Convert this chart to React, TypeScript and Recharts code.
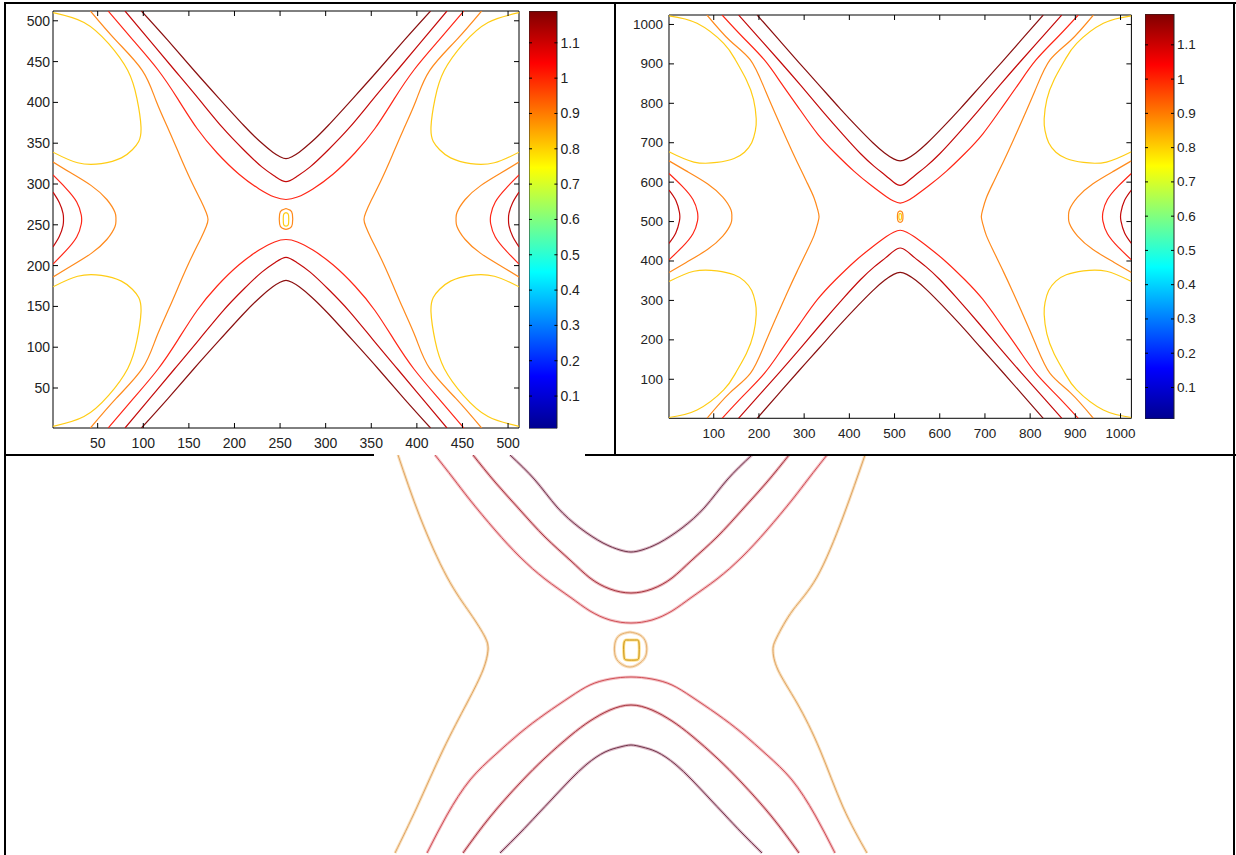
import React from "react";
import { LineChart, Line, XAxis, YAxis, ReferenceArea, BarChart, Bar } from "recharts";

type P = [number, number][];

// ---------- left plot (512 x 512) ----------
const leftTicks = [50, 100, 150, 200, 250, 300, 350, 400, 450, 500];

const lYellowTL: P = [[1,510],[35,498],[62,472],[83,439],[93,405],[97.5,370],[95,352],[88,342],[76,332],[54,325],[28,326],[1,339]];
const lYellowBL: P = [[1,3],[35,15],[62,41],[83,74],[93,108],[97.5,143],[95,161],[88,171],[76,181],[54,188],[28,187],[1,174]];
const lYellowTR: P = [[512,510],[478,498],[451,472],[430,439],[420,405],[415.5,370],[418,352],[425,342],[437,332],[459,325],[485,326],[512,339]];
const lYellowBR: P = [[512,3],[478,15],[451,41],[430,74],[420,108],[415.5,143],[418,161],[425,171],[437,181],[459,188],[485,187],[512,174]];
const lOrangeEdgeL: P = [[1,327],[20,314],[43,298],[60,281],[69,265],[70,256.5],[69,248],[60,232],[43,215],[20,199],[1,186]];
const lOrangeEdgeR: P = [[512,327],[493,314],[470,298],[453,281],[444,265],[443,256.5],[444,248],[453,232],[470,215],[493,199],[512,186]];
const lRedEdgeL: P = [[1,311],[15,295],[27,278],[32,262],[32,251],[27,235],[15,218],[1,202]];
const lRedEdgeR: P = [[512,311],[498,295],[486,278],[481,262],[481,251],[486,235],[498,218],[512,202]];
const lDarkEdgeL: P = [[1,290],[8,277],[12,264],[12.5,256.5],[12,249],[8,236],[1,223]];
const lDarkEdgeR: P = [[512,290],[505,277],[501,264],[500.5,256.5],[501,249],[505,236],[512,223]];
const lOrangeMidL: P = [[42,512],[70,476],[99,439],[114,402],[128,366],[140,335],[152,305],[163,280],[169,265],[171,256.5],[169,248],[163,233],[152,208],[140,178],[128,147],[114,111],[99,74],[70,37],[42,1]];
const lOrangeMidR: P = [[471,512],[443,476],[414,439],[399,402],[385,366],[373,335],[361,305],[350,280],[344,265],[342,256.5],[344,248],[350,233],[361,208],[373,178],[385,147],[399,111],[414,74],[443,37],[471,1]];
const lMaroonUp: P = [[98,512],[127,476],[155,440],[183,405],[210,372],[228,352],[242,339],[250,333.5],[256.5,331],[263,333.5],[271,339],[285,352],[303,372],[330,405],[358,440],[386,476],[415,512]];
const lMaroonLo: P = [[98,1],[127,37],[155,73],[183,108],[210,141],[228,161],[242,174],[250,179.5],[256.5,182],[263,179.5],[271,174],[285,161],[303,141],[330,108],[358,73],[386,37],[415,1]];
const lDarkUp: P = [[80,512],[107,476],[134,440],[161,404],[187,369],[210,342],[230,321],[245,309],[256.5,303],[268,309],[283,321],[303,342],[326,369],[352,404],[379,440],[406,476],[433,512]];
const lDarkLo: P = [[80,1],[107,37],[134,73],[161,109],[187,144],[210,171],[230,192],[245,204],[256.5,210],[268,204],[283,192],[303,171],[326,144],[352,109],[379,73],[406,37],[433,1]];
const lRedUp: P = [[61.5,512],[89,476],[116,440],[138,404],[159,368],[181,338],[205,312],[227,294],[244,284],[256.5,281],[269,284],[286,294],[308,312],[332,338],[354,368],[375,404],[397,440],[424,476],[451.5,512]];
const lRedLo: P = [[61.5,1],[89,37],[116,73],[138,109],[159,145],[181,175],[205,201],[227,219],[244,229],[256.5,232],[269,229],[286,219],[308,201],[332,175],[354,145],[375,109],[397,73],[424,37],[451.5,1]];
const lOvalOuter: P = [[256.5,270],[261,268],[263.5,263],[263.5,251],[261,246],[256.5,244.5],[252,246],[249.5,251],[249.5,263],[252,268],[256.5,270]];
const lOvalInner: P = [[256.5,265],[259,263],[259.5,257],[259,250],[256.5,248.5],[254,250],[253.5,257],[254,263],[256.5,265]];

// ---------- right plot (1024 x 1024) ----------
const rightTicks = [100, 200, 300, 400, 500, 600, 700, 800, 900, 1000];

const rYellowTL: P = [[1,1022],[63,1003],[122,952],[148,910],[172,860],[188,810],[194,760],[192,730],[184,700],[168,676],[145,660],[107,650],[56,651],[1,677]];
const rYellowBL: P = [[1,3],[63,22],[122,73],[148,115],[172,165],[188,215],[194,265],[192,295],[184,325],[168,349],[145,365],[107,375],[56,374],[1,348]];
const rYellowTR: P = [[1024,1022],[962,1003],[903,952],[877,910],[853,860],[837,810],[831,760],[833,730],[841,700],[857,676],[880,660],[918,650],[969,651],[1024,677]];
const rYellowBR: P = [[1024,3],[962,22],[903,73],[877,115],[853,165],[837,215],[831,265],[833,295],[841,325],[857,349],[880,365],[918,375],[969,374],[1024,348]];
const rOrangeEdgeL: P = [[1,654],[40,628],[86,596],[120,562],[138,530],[140,512.5],[138,495],[120,463],[86,429],[40,397],[1,371]];
const rOrangeEdgeR: P = [[1024,654],[985,628],[939,596],[905,562],[887,530],[885,512.5],[887,495],[905,463],[939,429],[985,397],[1024,371]];
const rRedEdgeL: P = [[1,622],[30,590],[54,556],[64,524],[64,501],[54,469],[30,435],[1,403]];
const rRedEdgeR: P = [[1024,622],[995,590],[971,556],[961,524],[961,501],[971,469],[995,435],[1024,403]];
const rDarkEdgeL: P = [[1,580],[16,554],[24,524],[25,512.5],[24,501],[16,471],[1,445]];
const rDarkEdgeR: P = [[1024,580],[1009,554],[1001,524],[1000,512.5],[1001,501],[1009,471],[1024,445]];
const rOrangeMidL: P = [[85,1024],[135,960],[181,910],[215,830],[262,707],[285,650],[306,600],[322,560],[330,530],[333,512.5],[330,495],[322,465],[306,425],[285,375],[262,318],[215,195],[181,115],[135,65],[85,1]];
const rOrangeMidR: P = [[940,1024],[890,960],[844,910],[810,830],[763,707],[740,650],[719,600],[703,560],[695,530],[692,512.5],[695,495],[703,465],[719,425],[740,375],[763,318],[810,195],[844,115],[890,65],[940,1]];
const rMaroonUp: P = [[196,1024],[242,964],[288,904],[334,845],[380,786],[420,737],[452,700],[478,674],[498,659],[512.5,654],[527,659],[547,674],[573,700],[605,737],[645,786],[691,845],[737,904],[783,964],[829,1024]];
const rMaroonLo: P = [[196,1],[242,61],[288,121],[334,180],[380,239],[420,288],[452,325],[478,351],[498,366],[512.5,371],[527,366],[547,351],[573,325],[605,288],[645,239],[691,180],[737,121],[783,61],[829,1]];
const rDarkUp: P = [[155,1024],[200,966],[245,908],[292,846],[340,781],[388,718],[425,672],[455,640],[480,617],[498,600],[512.5,592],[527,600],[545,617],[570,640],[600,672],[637,718],[685,781],[733,846],[780,908],[825,966],[870,1024]];
const rDarkLo: P = [[155,1],[200,59],[245,117],[292,179],[340,244],[388,307],[425,353],[455,385],[480,408],[498,425],[512.5,433],[527,425],[545,408],[570,385],[600,353],[637,307],[685,244],[733,179],[780,117],[825,59],[870,1]];
const rRedUp: P = [[118.5,1024],[165,967],[212,910],[250,850],[290,785],[330,722],[370,672],[410,628],[448,592],[482,563],[498,552],[512.5,547],[527,552],[543,563],[577,592],[615,628],[655,672],[695,722],[735,785],[775,850],[813,910],[860,967],[906.5,1024]];
const rRedLo: P = [[118.5,1],[165,58],[212,115],[250,175],[290,240],[330,303],[370,353],[410,397],[448,433],[482,462],[498,473],[512.5,478],[527,473],[543,462],[577,433],[615,397],[655,353],[695,303],[735,240],[775,175],[813,115],[860,58],[906.5,1]];
const rOvalOuter: P = [[512.5,527],[517,524],[518.5,517],[518.5,508],[517,501],[512.5,498],[508,501],[506.5,508],[506.5,517],[508,524],[512.5,527]];
const rOvalInner: P = [[512.5,521],[515,518],[515,507],[512.5,504],[510,507],[510,518],[512.5,521]];

// ---------- colorbar ----------
const cbTicks = [0.1, 0.2, 0.3, 0.4, 0.5, 0.6, 0.7, 0.8, 0.9, 1, 1.1];
const cbRange = [{ name: "c", range: [0.008, 1.19] }];

// ---------- bottom zoomed image (0..493 x 0..400) ----------
const bOrangeL: P = [[23,400],[45,338],[72,278],[95,242],[110,218],[113,205],[108,185],[92,152],[68,105],[42,48],[20,2]];
const bOrangeR: P = [[490,400],[468,338],[442,278],[418,245],[402,218],[398,205],[403,185],[422,152],[445,105],[468,48],[492,2]];
const bMaroonUp: P = [[135,400],[160,375],[182,348],[205,327],[228,312],[245,305],[256,303],[267,305],[284,312],[307,327],[330,348],[352,375],[377,400]];
const bDarkUp: P = [[98,400],[120,373],[145,345],[170,318],[195,295],[215,277],[235,266],[256,262],[277,266],[297,277],[317,295],[342,318],[367,345],[392,373],[414,400]];
const bRedUp: P = [[60,400],[78,377],[95,355],[120,325],[145,298],[170,276],[195,258],[215,244],[235,235],[256,232],[277,235],[297,244],[317,258],[342,276],[367,298],[392,325],[417,355],[434,377],[452,400]];
const bRedLo: P = [[52,2],[72,40],[95,75],[120,100],[145,122],[170,141],[195,158],[215,170],[235,176],[256,178],[277,176],[297,170],[317,158],[342,141],[367,122],[392,100],[417,75],[440,40],[460,2]];
const bDarkLo: P = [[88,2],[115,38],[145,72],[170,97],[195,119],[215,134],[235,145],[256,150],[277,145],[297,134],[317,119],[342,97],[367,72],[397,38],[424,2]];
const bMaroonLo: P = [[125,2],[145,22],[162,40],[178,57],[195,75],[212,91],[230,103],[245,108],[256,110],[267,108],[282,103],[300,91],[317,75],[334,57],[350,40],[367,22],[387,2]];
const bOvalOuter: P = [[255,223],[265,220],[271,212],[271,200],[265,192],[255,188],[245,192],[240,200],[240,212],[245,220],[255,223]];
const bOvalInner: P = [[252,215],[261,215],[264,212],[264,199],[261,195],[252,195],[249,199],[249,212],[252,215]];

const MAROON = "#8b1010";
const DARK = "#c40a0a";
const RED = "#ff2616";
const ORANGE = "#ff8a1c";
const YELLOW = "#ffcc14";

const pts = (a: P) => a.map(([x, y]) => ({ x, y }));

const leftCurves = [
  [lYellowTL, YELLOW], [lYellowBL, YELLOW], [lYellowTR, YELLOW], [lYellowBR, YELLOW],
  [lOrangeEdgeL, ORANGE], [lOrangeEdgeR, ORANGE], [lRedEdgeL, RED], [lRedEdgeR, RED],
  [lDarkEdgeL, DARK], [lDarkEdgeR, DARK], [lOrangeMidL, ORANGE], [lOrangeMidR, ORANGE],
  [lMaroonUp, MAROON], [lMaroonLo, MAROON], [lDarkUp, DARK], [lDarkLo, DARK],
  [lRedUp, RED], [lRedLo, RED], [lOvalOuter, ORANGE], [lOvalInner, YELLOW],
] as [P, string][];

const rightCurves = [
  [rYellowTL, YELLOW], [rYellowBL, YELLOW], [rYellowTR, YELLOW], [rYellowBR, YELLOW],
  [rOrangeEdgeL, ORANGE], [rOrangeEdgeR, ORANGE], [rRedEdgeL, RED], [rRedEdgeR, RED],
  [rDarkEdgeL, DARK], [rDarkEdgeR, DARK], [rOrangeMidL, ORANGE], [rOrangeMidR, ORANGE],
  [rMaroonUp, MAROON], [rMaroonLo, MAROON], [rDarkUp, DARK], [rDarkLo, DARK],
  [rRedUp, RED], [rRedLo, RED], [rOvalOuter, ORANGE], [rOvalInner, YELLOW],
] as [P, string][];

// wide pale stroke + thin dark stroke gives the doubled look of the scan
const bottomCurves = [
  [bOrangeL, "#f8e0c0", "#e0a460"], [bOrangeR, "#f8e0c0", "#e0a460"],
  [bMaroonUp, "#dcb8c6", "#6e3448"], [bDarkUp, "#ecb4ba", "#a2343e"], [bRedUp, "#f4c2c6", "#cf4e54"],
  [bRedLo, "#f4c2c6", "#cf4e54"], [bDarkLo, "#ecb4ba", "#a2343e"], [bMaroonLo, "#dcb8c6", "#6e3448"],
  [bOvalOuter, "#f8e0c0", "#e6b070"], [bOvalInner, "#ffe08a", "#c89010"],
] as [P, string, string][];

const FONT = "'Liberation Sans', Arial, sans-serif";

type PanelProps = {
  left: number; top: number; w: number; h: number;
  domain: [number, number]; ticks: number[]; curves: [P, string][];
  fs: number; yGap: number;
};

function ContourPanel({ left, top, w, h, domain, ticks, curves, fs, yGap }: PanelProps) {
  const padL = 50, padT = 10, padR = 10, padB = 35;
  const xTick = (p: any) => (
    <g>
      <line x1={p.x} x2={p.x} y1={p.y} y2={p.y - 5} stroke="#000" />
      <line x1={p.x} x2={p.x} y1={p.y - h} y2={p.y - h + 5} stroke="#000" />
      <text x={p.x} y={p.y + 20} textAnchor="middle" fontSize={fs} fontFamily={FONT} fill="#222">
        {p.payload.value}
      </text>
    </g>
  );
  const yTick = (p: any) => (
    <g>
      <line x1={p.x} x2={p.x + 5} y1={p.y} y2={p.y} stroke="#000" />
      <line x1={p.x + w} x2={p.x + w - 5} y1={p.y} y2={p.y} stroke="#000" />
      <text x={p.x - yGap} y={p.y} textAnchor="end" dominantBaseline="central" fontSize={fs} fontFamily={FONT} fill="#222">
        {p.payload.value}
      </text>
    </g>
  );
  return (
    <div style={{ position: "absolute", left: left - padL, top: top - padT }}>
      <LineChart
        width={w + padL + padR}
        height={h + padT + padB}
        margin={{ top: padT, right: padR, bottom: padB - 20, left: padL - 45 }}
      >
        <XAxis type="number" dataKey="x" domain={domain} ticks={ticks} interval={0} height={20}
          axisLine={false} tickLine={false} tickSize={0} tickMargin={0} tick={xTick} allowDataOverflow />
        <YAxis type="number" domain={domain} ticks={ticks} interval={0} width={45}
          axisLine={false} tickLine={false} tickSize={0} tickMargin={0} tick={yTick} allowDataOverflow />
        <ReferenceArea x1={domain[0]} x2={domain[1]} y1={domain[0]} y2={domain[1]} fill="none" stroke="#000" strokeWidth={1} />
        {curves.map(([d, color], i) => (
          <Line key={i} data={pts(d)} dataKey="y" type="natural" stroke={color} strokeWidth={1.2}
            dot={false} activeDot={false} isAnimationActive={false} />
        ))}
      </LineChart>
    </div>
  );
}

function ColorBar({ left, top, w, h, id, fs }: { left: number; top: number; w: number; h: number; id: string; fs: number }) {
  const tick = (p: any) => (
    <g>
      <line x1={p.x - 3} x2={p.x} y1={p.y} y2={p.y} stroke="#000" />
      <line x1={p.x - w} x2={p.x - w + 3} y1={p.y} y2={p.y} stroke="#000" />
      <text x={p.x + 3} y={p.y} textAnchor="start" dominantBaseline="central" fontSize={fs} fontFamily={FONT} fill="#222">
        {p.payload.value}
      </text>
    </g>
  );
  return (
    <div style={{ position: "absolute", left, top: top - 5 }}>
      <BarChart width={w + 40} height={h + 10} data={cbRange} margin={{ top: 5, bottom: 5, left: 0, right: 0 }} barCategoryGap={0}>
        <defs>
          <linearGradient id={id} x1="0" y1="0" x2="0" y2="1">
            <stop offset="0" stopColor="#800000" />
            <stop offset="0.125" stopColor="#ff0000" />
            <stop offset="0.375" stopColor="#ffff00" />
            <stop offset="0.625" stopColor="#00ffff" />
            <stop offset="0.875" stopColor="#0000ff" />
            <stop offset="1" stopColor="#00008f" />
          </linearGradient>
        </defs>
        <XAxis dataKey="name" hide />
        <YAxis orientation="right" width={40} type="number" domain={[0.008, 1.19]} ticks={cbTicks} interval={0}
          axisLine={false} tickLine={false} tickSize={0} tickMargin={0} tick={tick} allowDataOverflow />
        <Bar dataKey="range" fill={`url(#${id})`} stroke="#222" strokeWidth={1} isAnimationActive={false} />
      </BarChart>
    </div>
  );
}

const line = (l: number, t: number, w: number, h: number) => (
  <div style={{ position: "absolute", left: l, top: t, width: w, height: h, background: "#000" }} />
);

export default function App() {
  return (
    <div style={{ position: "absolute", left: 0, top: 0, width: 1236, height: 855, background: "#fff", overflow: "hidden" }}>
      <ContourPanel left={52.5} top={10.7} w={466} h={417} domain={[1, 512]} ticks={leftTicks} curves={leftCurves} fs={14} yGap={3} />
      <ColorBar left={529.3} top={10.7} w={28.4} h={417.6} id="jetL" fs={14} />
      <ContourPanel left={669.3} top={15} w={462.4} h={403.3} domain={[1, 1024]} ticks={rightTicks} curves={rightCurves} fs={13.5} yGap={6} />
      <ColorBar left={1145} top={14} w={29} h={405} id="jetR" fs={13.5} />

      <div style={{ position: "absolute", left: 375, top: 455 }}>
        <LineChart width={493} height={400} margin={{ top: 0, right: 0, bottom: 0, left: 0 }}>
          <XAxis type="number" dataKey="x" domain={[0, 493]} hide allowDataOverflow />
          <YAxis type="number" domain={[0, 400]} hide allowDataOverflow />
          {bottomCurves.map(([d, pale], i) => (
            <Line key={"p" + i} data={pts(d)} dataKey="y" type="natural" stroke={pale} strokeWidth={3}
              dot={false} activeDot={false} isAnimationActive={false} />
          ))}
          {bottomCurves.map(([d, , dark], i) => (
            <Line key={"d" + i} data={pts(d)} dataKey="y" type="natural" stroke={dark} strokeWidth={1}
              dot={false} activeDot={false} isAnimationActive={false} />
          ))}
        </LineChart>
      </div>

      {line(4, 2, 1232, 1.5)}
      {line(4, 2, 2, 853)}
      {line(614, 2, 2, 453)}
      {line(1233, 2, 2, 853)}
      {line(4, 454, 370, 1.5)}
      {line(585, 454, 651, 1.5)}
    </div>
  );
}
